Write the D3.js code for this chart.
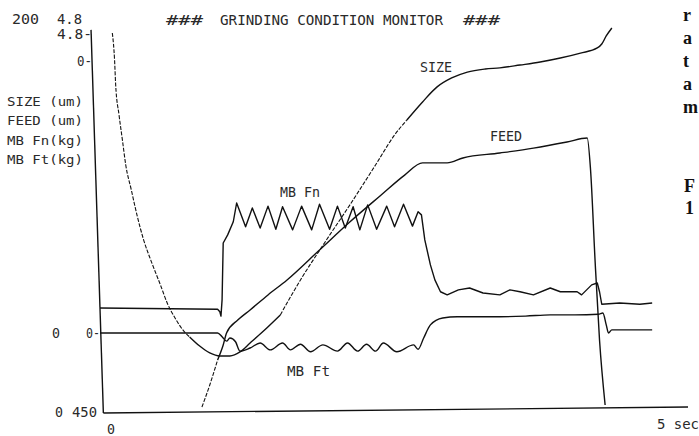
<!DOCTYPE html>
<html>
<head>
<meta charset="utf-8">
<script src="https://cdn.jsdelivr.net/npm/d3@7"></script>
<style>
body { margin: 0; background: #fff; }
svg { display: block; background: #fff; }
text { font-family: "DejaVu Sans Mono", monospace; fill: #2a2a2a; }
text.page { font-family: "Liberation Serif", serif; font-weight: bold; fill: #111; }
</style>
</head>
<body>
<svg width="699" height="436"></svg>
<script>
// values: [time s, value]
var sizeData = [[0.11,199.5],[0.13,185.3],[0.14,172.1],[0.17,156.3],[0.20,143.2],[0.23,130.0],[0.28,116.8],
  [0.33,103.7],[0.39,90.5],[0.46,78.9],[0.54,66.8],[0.60,57.4],[0.67,49.5],[0.74,43.2],[0.80,39.5],
  [0.89,34.7],[0.98,31.1],[1.07,29.5],[1.16,29.5],[1.25,31.6],[1.34,36.3],[1.45,42.1],[1.61,51.1],
  [1.79,69.5],[2.01,89.5],[2.23,108.9],[2.46,130.0],[2.63,145.8],[2.74,153.7],[2.88,163.2],[3.01,171.1],
  [3.14,175.8],[3.28,178.9],[3.44,180.5],[3.57,181.1],[3.75,182.6],[3.93,184.2],[4.11,186.3],[4.29,188.9],
  [4.44,191.6],[4.48,193.7],[4.52,197.9],[4.57,202.1]];

var feedData = [[0.91,2.6],[0.98,14.2],[1.05,27.4],[1.10,35.3],[1.13,41.6],[1.23,48.4],[1.34,53.7],
  [1.50,61.6],[1.67,69.5],[1.96,85.3],[2.23,100.0],[2.50,113.7],[2.72,124.7],[2.88,131.1],[3.10,131.1],
  [3.24,133.7],[3.57,136.3],[3.87,138.9],[4.17,142.1],[4.35,144.2],[4.38,127.4],[4.42,80.0],[4.46,37.9],
  [4.51,3.7]];

var fnData = [[0,0.40],[1.05,0.38],[1.07,0.34],[1.08,0.27],[1.09,0.53],[1.10,1.44],[1.14,1.57],[1.19,1.78],
  [1.22,2.08],[1.30,1.70],[1.36,2.00],[1.43,1.68],[1.50,2.03],[1.57,1.66],[1.63,2.02],[1.72,1.65],
  [1.80,2.03],[1.89,1.65],[1.96,2.06],[2.05,1.66],[2.12,2.03],[2.19,1.68],[2.26,2.02],[2.32,1.65],
  [2.39,2.05],[2.47,1.66],[2.56,2.03],[2.63,1.70],[2.71,2.06],[2.79,1.71],[2.84,1.94],[2.87,1.89],
  [2.90,1.49],[2.95,1.09],[2.99,0.85],[3.04,0.66],[3.10,0.61],[3.20,0.69],[3.30,0.72],[3.42,0.64],
  [3.57,0.61],[3.66,0.69],[3.75,0.66],[3.87,0.61],[4.02,0.72],[4.11,0.66],[4.26,0.66],[4.30,0.61],
  [4.39,0.77],[4.44,0.80],[4.46,0.66],[4.48,0.46],[4.64,0.48],[4.82,0.46],[4.93,0.48]];

var ftData = [[0,0],[1.05,0],[1.09,-0.06],[1.13,-0.13],[1.16,-0.08],[1.21,-0.14],[1.25,-0.29],[1.34,-0.24],
  [1.43,-0.16],[1.52,-0.27],[1.63,-0.16],[1.70,-0.27],[1.79,-0.18],[1.88,-0.30],[1.99,-0.19],[2.12,-0.29],
  [2.21,-0.16],[2.30,-0.29],[2.38,-0.18],[2.46,-0.29],[2.53,-0.16],[2.65,-0.30],[2.80,-0.19],[2.84,-0.26],
  [2.89,-0.08],[2.95,0.13],[3.06,0.24],[3.19,0.26],[3.42,0.26],[3.57,0.26],[3.80,0.27],[4.02,0.29],
  [4.24,0.29],[4.45,0.30],[4.49,0.32],[4.52,0.13],[4.54,0],[4.57,0.05],[4.93,0.05]];

var legendNames = ["SIZE (um)", "FEED (um)", "MB Fn(kg)", "MB Ft(kg)"];
var curveNames = ["SIZE", "FEED", "MB Fn", "MB Ft"];
var title = "GRINDING CONDITION MONITOR";

var svg = d3.select("svg");

var x = d3.scaleLinear().domain([0, 5]).range([100, 660]);
var yUm = d3.scaleLinear().domain([0, 200]).range([412, 32]);
var yKg = d3.scaleLinear().domain([0, 4.8]).range([333, 33]);

function label(txt, x0, y0, w, size, cls) {
  var t = svg.append("text").attr("x", x0).attr("y", y0)
    .attr("font-size", size || 14).text(txt);
  if (w) t.attr("textLength", w).attr("lengthAdjust", "spacingAndGlyphs");
  if (cls) t.attr("class", cls);
  return t;
}

// axes (the sheet is scanned slightly crooked)
var axisPen = d3.line();
svg.append("path")
  .attr("d", axisPen([[x(-0.08), yKg(4.85)], [x(0.03), yUm(-0.5)]]))
  .attr("stroke", "#111").attr("stroke-width", 1.4).attr("fill", "none");
svg.append("path")
  .attr("d", axisPen([[x(0.03), yUm(-0.5)], [x(5.25), yUm(2.6)]]))
  .attr("stroke", "#111").attr("stroke-width", 1.4).attr("fill", "none");

// pen moves fast on some stretches and leaves a broken trace
var fastPen = { SIZE: [[0.1, 0.78], [1.6, 2.75]], FEED: [[0.9, 1.06]] };

function pieces(data, ranges) {
  var out = [], cur = null;
  for (var i = 0; i < data.length - 1; i++) {
    var mid = (data[i][0] + data[i + 1][0]) / 2;
    var dash = (ranges || []).some(function(r) { return mid >= r[0] && mid <= r[1]; });
    if (!cur || cur.dash !== dash) { cur = { dash: dash, pts: [data[i]] }; out.push(cur); }
    cur.pts.push(data[i + 1]);
  }
  return out;
}

var traces = [
  { key: "SIZE", data: sizeData, y: yUm, curve: d3.curveMonotoneX },
  { key: "FEED", data: feedData, y: yUm, curve: d3.curveMonotoneX },
  { key: "FN", data: fnData, y: yKg, curve: d3.curveLinear },
  { key: "FT", data: ftData, y: yKg, curve: d3.curveMonotoneX }
];

traces.forEach(function(s) {
  var line = d3.line()
    .x(function(d) { return x(d[0]); })
    .y(function(d) { return s.y(d[1]); })
    .curve(s.curve);
  pieces(s.data, fastPen[s.key]).forEach(function(p) {
    svg.append("path")
      .attr("d", line(p.pts))
      .attr("fill", "none")
      .attr("stroke", "#111")
      .attr("stroke-width", p.dash ? 1.1 : 1.4)
      .attr("stroke-dasharray", p.dash ? "4,1.5" : null)
      .attr("stroke-linejoin", "round");
  });
});

// header and scale labels
label("200", 12, 24, 27);
label("4.8", 57, 24, 25);
label("###", 166, 25, 37);
label(title, 220, 25, 223);
label("###", 463, 25, 37);
label("4.8-", 57, yKg(4.8) + 6, 35);
label("0-", 77, 66, 15);

legendNames.forEach(function(n, i) {
  label(n, 7, [106, 125, 145, 164][i], 76, 13);
});

label("0", 52, yKg(0) + 5, 8);
label("0-", 86, yKg(0) + 5, 14);
label("0", 55, yUm(0) + 5, 8);
label("450", 72, yUm(0) + 5, 25);
label("0", x(0) + 7, 434, 8);
label("5 sec", x(5) - 3, 429, 42);

// trace names
label(curveNames[0], 420, 72, 32);
label(curveNames[1], 490, 141, 32);
label(curveNames[2], 280, 197, 40);
label(curveNames[3], 287, 376, 43);

// edge of the neighbouring page text
["r", "a", "t", "a", "m"].forEach(function(c, i) {
  label(c, 683, 21 + i * 23, null, 18, "page");
});
label("F", 684, 192, null, 18, "page");
label("1", 685, 214, null, 18, "page");
</script>
</body>
</html>
